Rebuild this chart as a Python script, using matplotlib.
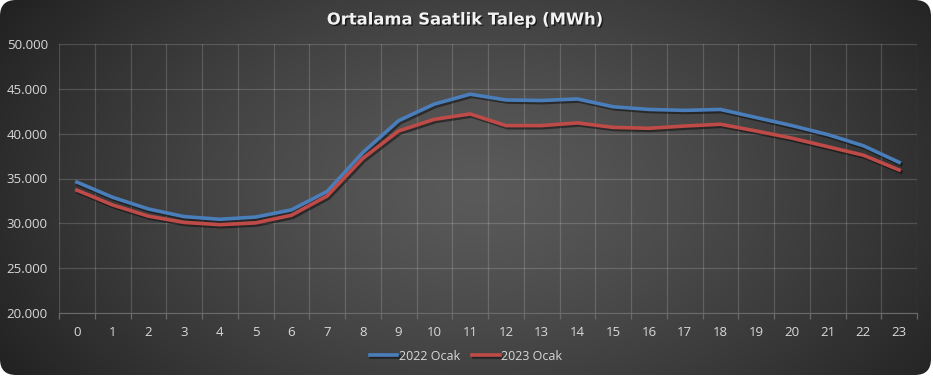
import numpy as np
import matplotlib
matplotlib.use("Agg")
import matplotlib.pyplot as plt
import matplotlib.patheffects as pe
from matplotlib.patches import FancyBboxPatch
from matplotlib.ticker import FuncFormatter

# data
hours = list(range(24))
ocak_2022 = [34600, 32900, 31600, 30750, 30450, 30700, 31500, 33550, 37900, 41450,
             43300, 44400, 43760, 43700, 43870, 43000, 42700, 42600, 42700, 41800,
             40900, 39900, 38650, 36800]
ocak_2023 = [33700, 32050, 30800, 30100, 29850, 30050, 30900, 33050, 37250, 40300,
             41600, 42200, 40900, 40900, 41200, 40700, 40600, 40850, 41050, 40300,
             39500, 38550, 37600, 35950]
y_ticks = [20000, 25000, 30000, 35000, 40000, 45000, 50000]

W, H = 933, 379
fig = plt.figure(figsize=(W / 100, H / 100), dpi=100)
fig.patch.set_facecolor("white")

# background: rounded dark panel with radial gradient
bg = fig.add_axes([0, 0, 1, 1])
bg.set_xlim(0, W)
bg.set_ylim(H, 0)
bg.axis("off")
pw, ph = 931, 375
xx, yy = np.meshgrid(np.linspace(0, pw, 400), np.linspace(0, ph, 200))
r = np.sqrt(((xx - 480) / (pw * 0.62)) ** 2 + ((yy - 190) / (ph * 0.95)) ** 2)
r = np.clip(r, 0, 1)
c0, c1 = 0x5a / 255, 0x20 / 255
grad = c0 + (c1 - c0) * r ** 1.3
img = np.dstack([grad, grad, grad])
im = bg.imshow(img, extent=(0, pw, ph, 0), aspect="auto", interpolation="bilinear")
box = FancyBboxPatch((0, 0), pw, ph, boxstyle="round,pad=0,rounding_size=16",
                     transform=bg.transData, facecolor="none", edgecolor="none")
bg.add_patch(box)
im.set_clip_path(box)

# plot area
left, right, top, bottom = 59, 917, 44, 313
ax = fig.add_axes([left / W, (H - bottom) / H, (right - left) / W, (bottom - top) / H])
ax.set_facecolor("none")

shadow = [pe.SimpleLineShadow(offset=(1.2, -1.5), shadow_color="black", alpha=0.45), pe.Normal()]
ax.plot(hours, ocak_2022, color="#4a7ebb", lw=2.6, label="2022 Ocak",
        solid_joinstyle="round", path_effects=shadow, zorder=3)
ax.plot(hours, ocak_2023, color="#be4b48", lw=2.6, label="2023 Ocak",
        solid_joinstyle="round", path_effects=shadow, zorder=3)

ax.set_xlim(-0.5, 23.5)
ax.set_ylim(20000, 50000)
ax.set_yticks(y_ticks)
ax.yaxis.set_major_formatter(FuncFormatter(lambda v, p: f"{int(v):,}".replace(",", ".")))
ax.set_xticks(hours)
ax.set_xticks(np.arange(-0.5, 24, 1), minor=True)

ax.grid(True, axis="y", which="major", color="white", alpha=0.16, lw=0.9)
ax.grid(True, axis="x", which="minor", color="white", alpha=0.16, lw=0.9)
ax.grid(False, axis="x", which="major")
for s in ["top", "right", "left"]:
    ax.spines[s].set_visible(False)
ax.spines["bottom"].set_color("#6a6a6a")

ax.tick_params(axis="both", which="major", length=0, colors="#d9d9d9", labelsize=9.5)
ax.tick_params(axis="x", which="major", pad=9)
ax.tick_params(axis="y", which="major", pad=8)
ax.tick_params(axis="x", which="minor", length=4, color="#6a6a6a", width=0.9)
for lbl in ax.get_xticklabels() + ax.get_yticklabels():
    lbl.set_fontfamily(["Open Sans", "DejaVu Sans"])

fig.text(465 / W, 1 - 20 / H, "Ortalama Saatlik Talep (MWh)", ha="center", va="center",
         color="#f2f2f2", fontsize=11.8, fontweight="bold",
         family=["DejaVu Sans"],
         path_effects=[pe.withSimplePatchShadow(offset=(1, -1), shadow_rgbFace="black", alpha=0.6)])

leg = ax.legend(loc="center", bbox_to_anchor=(466 / W, 1 - 356 / H), bbox_transform=fig.transFigure,
                ncol=2, frameon=False, handlelength=2.2, handletextpad=0.1, columnspacing=1.0,
                prop=dict(family=["Open Sans", "DejaVu Sans"], size=9))
for t in leg.get_texts():
    t.set_color("#d9d9d9")

fig.savefig("out.png", dpi=100, facecolor="white")
